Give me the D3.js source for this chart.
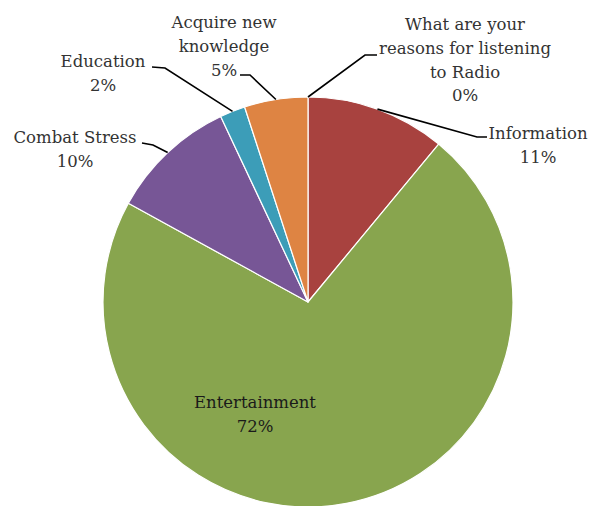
<!DOCTYPE html>
<html>
<head>
<meta charset="utf-8">
<script src="https://cdn.jsdelivr.net/npm/d3@7"></script>
<style>
  html, body { margin: 0; padding: 0; background: #fff; }
  svg { display: block; }
  text { font-family: "DejaVu Serif", "Liberation Serif", serif; font-size: 16.5px; fill: #333; }
</style>
</head>
<body>
<svg id="chart" width="596" height="506"></svg>
<script>
// Reasons for listening to radio (share of respondents, %)
const categories = ["What are your reasons for listening to Radio", "Information", "Entertainment", "Combat Stress", "Education", "Acquire new knowledge"];
const values = [0, 11, 72, 10, 2, 5];
const colors = ["#4F81BD", "#A8423F", "#88A54E", "#775696", "#3C9DB8", "#DE8443"];

// Label text lines (category wrapped as in the chart, then the percentage)
const labelLines = [
  ["What are your", "reasons for listening", "to Radio"],
  ["Information"],
  ["Entertainment"],
  ["Combat Stress"],
  ["Education"],
  ["Acquire new", "knowledge"]
];

// Label placement: centre x, first baseline y, and leader-line elbow (or null for inside labels)
const labelLayout = [
  { x: 465, y: 30, elbow: [[377, 55], [365, 55]] },
  { x: 538, y: 139, elbow: [[487, 137], [477, 137]] },
  { x: 255, y: 408, elbow: null },
  { x: 75, y: 143, elbow: [[142, 143], [153, 145]] },
  { x: 103, y: 67, elbow: [[152, 67], [165, 68]] },
  { x: 224, y: 28, elbow: [[240, 75], [250, 75]] }
];

const cx = 308, cy = 302, radius = 205, lineGap = 23.8;

const svg = d3.select("#chart");
const g = svg.append("g").attr("transform", `translate(${cx},${cy})`);

const data = categories.map((c, i) => ({ name: c, value: values[i], i }));
const pie = d3.pie().value(d => d.value).sort(null);
const arcs = pie(data);
const arc = d3.arc().innerRadius(0).outerRadius(radius);

g.selectAll("path.slice")
  .data(arcs)
  .join("path")
  .attr("class", "slice")
  .attr("d", arc)
  .attr("fill", d => colors[d.data.i])
  .attr("stroke", "#fff")
  .attr("stroke-width", 1.2)
  .attr("stroke-linejoin", "round");

// Leader lines from the middle of each slice's outer edge to its label
const leaders = svg.append("g");
arcs.forEach(a => {
  const lay = labelLayout[a.data.i];
  if (!lay.elbow) return;
  const mid = (a.startAngle + a.endAngle) / 2;
  const px = cx + radius * Math.sin(mid);
  const py = cy - radius * Math.cos(mid);
  const pts = [...lay.elbow, [px, py]];
  leaders.append("path")
    .attr("d", d3.line()(pts))
    .attr("fill", "none")
    .attr("stroke", "#000")
    .attr("stroke-width", 1.6);
});

// Labels
const labels = svg.append("g");
arcs.forEach(a => {
  const i = a.data.i;
  const lay = labelLayout[i];
  const lines = [...labelLines[i], d3.format(".0f")(a.data.value) + "%"];
  const t = labels.append("text")
    .attr("text-anchor", "middle")
    .style("fill", lay.elbow ? "#333" : "#1a1a1a");
  lines.forEach((s, k) => {
    t.append("tspan").attr("x", lay.x).attr("y", lay.y + k * lineGap).text(s);
  });
});
</script>
</body>
</html>
